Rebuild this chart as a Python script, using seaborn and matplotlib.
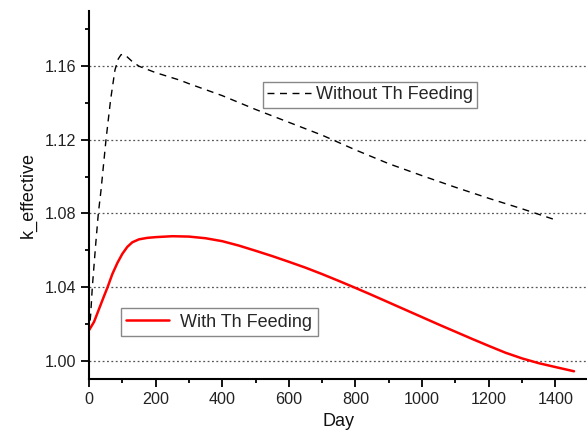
import matplotlib
matplotlib.use("Agg")
import matplotlib.pyplot as plt
import pandas as pd
import seaborn as sns
from matplotlib.ticker import MultipleLocator, FormatStrFormatter

# Without Th feeding (dashed black)
days_without = [0, 5, 10, 20, 28, 36, 51, 65, 78, 88, 96, 103, 115, 130, 150, 200, 273,
                300, 400, 500, 600, 700, 800, 900, 1000, 1100, 1200, 1300, 1400]
k_without = [1.015, 1.025, 1.040, 1.063, 1.080, 1.0925, 1.120, 1.142, 1.158, 1.1640,
             1.1662, 1.1665, 1.1650, 1.1625, 1.1600, 1.1565, 1.1524, 1.1505, 1.1440,
             1.1365, 1.1295, 1.1225, 1.1145, 1.1070, 1.1005, 1.0942, 1.0882, 1.0825, 1.0765]

# With Th feeding (solid red)
days_with = [0, 15, 30, 45, 56, 70, 85, 100, 115, 130, 150, 175, 200, 250, 300, 350,
             400, 450, 500, 550, 600, 650, 700, 750, 800, 850, 900, 950, 1000, 1050,
             1100, 1150, 1200, 1250, 1300, 1350, 1400, 1456]
k_with = [1.0165, 1.0210, 1.0280, 1.0350, 1.0400, 1.0470, 1.0530, 1.0580, 1.0618, 1.0643,
          1.0659, 1.0667, 1.0671, 1.0676, 1.0674, 1.0665, 1.0649, 1.0625, 1.0597, 1.0568,
          1.0537, 1.0505, 1.0470, 1.0433, 1.0395, 1.0356, 1.0316, 1.0276, 1.0236, 1.0196,
          1.0157, 1.0118, 1.0080, 1.0043, 1.0012, 0.9986, 0.9965, 0.9942]

LABEL_WITHOUT = "Without Th Feeding"
LABEL_WITH = "With Th Feeding"


def main() -> None:
    df_without = pd.DataFrame({"Day": days_without, "k": k_without})
    df_with = pd.DataFrame({"Day": days_with, "k": k_with})

    sns.set_style("ticks")
    plt.rcParams["font.family"] = ["Liberation Sans", "DejaVu Sans"]

    fig = plt.figure(figsize=(5.87, 4.38), dpi=100)
    ax = fig.add_axes([89 / 587, 59 / 438, 1 - 89 / 587, (379 - 11) / 438])

    sns.lineplot(data=df_without, x="Day", y="k", ax=ax, color="black", lw=1.0,
                 linestyle=(0, (5, 4)), sort=False, label=LABEL_WITHOUT, legend=False)
    sns.lineplot(data=df_with, x="Day", y="k", ax=ax, color="#ff0000", lw=1.8,
                 sort=False, label=LABEL_WITH, legend=False)

    ax.set_xlim(0, 1495)
    ax.set_ylim(0.99, 1.19)
    ax.xaxis.set_major_locator(MultipleLocator(200))
    ax.xaxis.set_minor_locator(MultipleLocator(100))
    ax.yaxis.set_major_locator(MultipleLocator(0.04))
    ax.yaxis.set_minor_locator(MultipleLocator(0.02))
    ax.yaxis.set_major_formatter(FormatStrFormatter("%.2f"))

    ax.grid(axis="y", which="major", linestyle=(0, (1.5, 2)), color="#555555", lw=0.9)
    ax.grid(axis="x", visible=False)

    for side in ["top", "right"]:
        ax.spines[side].set_visible(False)
    for side in ["left", "bottom"]:
        ax.spines[side].set_linewidth(1.5)
        ax.spines[side].set_color("black")

    ax.tick_params(which="major", direction="out", length=6, width=1.3,
                   labelsize=11.6, colors="black", labelcolor="#222222", pad=3)
    ax.tick_params(which="minor", direction="out", length=3, width=1.3, colors="black")

    ax.set_xlabel("Day", fontsize=13, color="#111111", labelpad=5)
    ax.set_ylabel("k_effective", fontsize=13, color="#111111", labelpad=6)

    lines = ax.get_lines()
    leg1 = ax.legend([lines[0]], [LABEL_WITHOUT], loc="upper left",
                     bbox_to_anchor=(262.7 / 587, 1 - 81.7 / 438),
                     bbox_transform=fig.transFigure, borderaxespad=0,
                     fancybox=False, framealpha=1, edgecolor="#888888",
                     fontsize=13, handlelength=2.4, handletextpad=0.3,
                     borderpad=0.25)
    leg1.get_frame().set_linewidth(1.0)
    ax.add_artist(leg1)
    leg2 = ax.legend([lines[1]], [LABEL_WITH], loc="upper left",
                     bbox_to_anchor=(120.7 / 587, 1 - 308.3 / 438),
                     bbox_transform=fig.transFigure, borderaxespad=0,
                     fancybox=False, framealpha=1, edgecolor="#888888",
                     fontsize=13, handlelength=2.4, handletextpad=0.6,
                     borderpad=0.3)
    leg2.get_frame().set_linewidth(1.0)

    fig.savefig("out.png", dpi=100)
    plt.close(fig)


if __name__ == "__main__":
    main()
